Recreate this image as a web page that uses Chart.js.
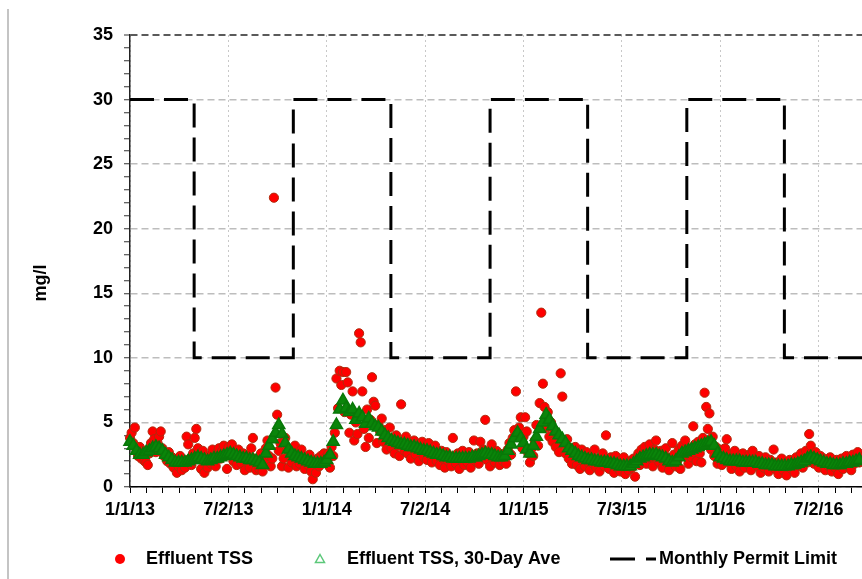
<!DOCTYPE html>
<html>
<head>
<meta charset="utf-8">
<script src="https://cdn.jsdelivr.net/npm/chart.js@4.4.1/dist/chart.umd.min.js"></script>
<style>
  html, body { margin: 0; padding: 0; background: #fff; overflow: hidden; }
  canvas { display: block; }
</style>
</head>
<body>
<canvas id="tssChart" width="862" height="579"></canvas>
<script>
// x values are days counted from 1/1/13
const xTickDays = [0, 182.5, 365, 547.5, 730, 912.5, 1095, 1277.5];
const xTickLabels = ['1/1/13', '7/2/13', '1/1/14', '7/2/14', '1/1/15', '7/3/15', '1/1/16', '7/2/16'];
const xMaxDay = 1358;
const yTitle = 'mg/l';

const yearStartDays = [0, 365, 730, 1095];

// Effluent TSS, one reading every 3 days from each 1 Jan
const tssStepDays = 3;
const tss2013 = [3.8, 4.2, 3.4, 4.6, 2.9, 2.4, 3.1, 2.2, 2.8, 2.0, 1.9, 1.7, 2.6, 3.4, 4.3, 3.7, 2.7, 3.4, 3.9, 4.3,
  3.0, 2.4, 2.6, 2.0, 2.7, 1.8, 2.3, 1.5, 2.1, 1.1, 1.6, 2.4, 1.3, 2.0, 1.5, 3.9, 3.3, 2.2, 1.7, 2.6,
  3.8, 4.5, 3.0, 2.3, 1.4, 2.8, 1.1, 2.0, 1.5, 2.4, 1.8, 2.9, 2.1, 1.6, 2.7, 3.0, 2.2, 2.8, 3.2, 2.4,
  1.4, 3.1, 2.6, 3.3, 2.0, 2.5, 1.7, 2.9, 2.2, 1.8, 2.6, 1.3, 2.1, 2.4, 1.5, 3.0, 3.8, 2.2, 1.3, 2.0,
  1.4, 2.6, 1.2, 2.0, 3.0, 3.6, 2.4, 1.6, 2.2, 22.4, 7.7, 5.6, 2.8, 3.4, 1.6, 2.2, 3.8, 2.9, 1.5, 2.4,
  1.9, 2.7, 3.2, 1.6, 2.5, 1.8, 2.9, 2.1, 1.4, 2.2, 1.7, 2.5, 1.2, 0.6, 1.9, 1.1, 2.2, 1.6, 2.4, 1.9,
  2.6, 2.3];
const tss2014 = [1.8, 2.6, 1.5, 3.1, 2.4, 4.2, 8.4, 6.1, 9.0, 7.9, 8.9, 5.8, 8.9, 8.1, 4.2, 5.6, 7.4, 3.6, 5.0, 4.1,
  11.9, 11.2, 7.4, 4.5, 3.1, 6.0, 3.8, 5.2, 8.5, 6.6, 6.3, 3.4, 4.8, 4.3, 5.3, 3.5, 4.4, 2.9, 3.8, 4.6,
  3.0, 3.7, 2.6, 4.0, 3.2, 2.4, 6.4, 3.5, 2.8, 3.9, 2.6, 3.4, 2.2, 3.1, 3.6, 2.5, 3.3, 2.0, 2.9, 3.5,
  2.3, 3.0, 2.1, 3.4, 2.5, 1.9, 2.9, 3.2, 2.0, 2.6, 1.7, 2.8, 2.2, 1.5, 2.7, 2.0, 2.4, 1.6, 3.8, 2.3,
  1.8, 2.6, 1.4, 2.1, 2.8, 1.7, 2.4, 1.9, 2.7, 1.5, 2.2, 3.6, 2.0, 2.6, 1.8, 3.5, 2.3, 2.9, 5.2, 2.1,
  2.7, 1.6, 3.3, 2.4, 1.9, 2.8, 2.2, 1.7, 2.5, 2.0, 2.6, 1.8, 2.9, 3.4, 2.5, 3.8, 4.4, 7.4, 3.9, 4.6,
  5.4, 3.0];
const tss2015 = [3.9, 5.4, 4.3, 2.6, 1.9, 3.0, 2.4, 3.6, 4.8, 3.2, 6.5, 13.5, 8.0, 6.2, 4.6, 5.8, 3.9, 5.0, 3.5, 4.4,
  3.1, 4.0, 2.7, 8.8, 7.0, 3.3, 2.6, 3.7, 2.2, 3.0, 1.8, 2.6, 3.1, 1.7, 2.5, 1.4, 2.9, 2.0, 1.6, 2.7,
  1.9, 1.3, 2.4, 1.8, 2.9, 1.5, 2.2, 1.2, 2.0, 2.6, 1.6, 4.0, 2.1, 1.4, 2.3, 1.7, 1.1, 2.4, 1.5, 2.0,
  1.2, 1.8, 2.3, 1.0, 1.7, 1.3, 2.0, 1.5, 2.2, 0.8, 1.9, 2.6, 1.7, 2.9, 2.1, 3.1, 1.8, 2.7, 3.3, 2.2,
  1.6, 2.9, 3.6, 2.4, 1.9, 2.8, 1.5, 2.5, 3.0, 1.8, 1.3, 2.2, 3.4, 2.5, 1.6, 2.0, 2.9, 1.4, 3.2, 2.4,
  3.6, 2.7, 1.8, 3.0, 2.3, 4.7, 3.3, 2.0, 3.5, 2.6, 1.9, 3.8, 7.3, 6.2, 4.5, 5.7, 2.9, 3.9, 2.4, 3.1,
  1.8, 2.6];
const tss2016 = [2.9, 1.7, 2.4, 3.0, 3.7, 1.9, 2.5, 1.4, 2.2, 2.8, 1.6, 2.3, 1.2, 2.0, 2.6, 1.5, 2.1, 1.8, 2.5, 1.3,
  2.8, 1.9, 2.2, 1.6, 2.4, 1.1, 2.0, 1.5, 2.3, 1.8, 1.2, 2.1, 1.6, 2.9, 1.4, 1.9, 1.0, 1.7, 2.2, 1.3,
  1.8, 0.9, 1.6, 2.1, 1.4, 1.9, 1.1, 2.3, 1.7, 2.0, 2.6, 1.5, 2.2, 2.8, 1.9, 4.1, 3.2, 2.5, 1.8, 2.7,
  2.1, 1.5, 2.4, 1.8, 2.2, 1.3, 2.0, 1.6, 2.3, 1.2, 1.9, 1.5, 2.1, 1.0, 1.7, 2.2, 1.4, 1.9, 2.4, 1.6,
  2.0, 1.3, 2.5, 1.8, 2.2, 2.7, 1.9, 2.3];

// Effluent TSS, 30-Day Ave, read every 6 days from each 1 Jan
const aveStepDays = 6;
const ave2013 = [3.5, 3.2, 2.8, 2.5, 2.5, 2.7, 2.8, 3.0, 3.1, 3.0, 2.8, 2.5, 2.3, 2.1, 1.9, 1.9, 1.9, 1.9, 2.0, 2.1,
  2.2, 2.3, 2.2, 2.1, 2.0, 2.1, 2.2, 2.2, 2.3, 2.4, 2.5, 2.6, 2.5, 2.4, 2.3, 2.2, 2.2, 2.1, 2.1, 2.0,
  1.9, 1.7, 2.6, 3.2, 3.7, 4.2, 4.8, 4.1, 3.4, 2.9, 2.6, 2.4, 2.3, 2.2, 2.1, 2.0, 1.9, 1.8, 1.8, 1.8,
  1.9];
const ave2014 = [2.1, 2.5, 3.5, 4.8, 6.0, 6.7, 6.1, 5.8, 6.0, 5.2, 5.7, 5.4, 4.9, 5.3, 4.9, 4.7, 4.6, 4.3, 4.0, 3.8,
  3.6, 3.5, 3.4, 3.3, 3.3, 3.2, 3.1, 3.1, 3.0, 2.9, 2.8, 2.8, 2.7, 2.6, 2.5, 2.5, 2.4, 2.3, 2.3, 2.2,
  2.2, 2.2, 2.2, 2.2, 2.2, 2.3, 2.3, 2.4, 2.5, 2.6, 2.5, 2.5, 2.4, 2.3, 2.3, 2.4, 2.8, 3.3, 3.8, 4.2,
  3.8];
const ave2015 = [3.4, 2.9, 2.6, 3.2, 3.9, 4.5, 5.0, 5.6, 5.2, 4.7, 4.3, 4.0, 3.7, 3.4, 3.0, 2.8, 2.6, 2.4, 2.3, 2.2,
  2.1, 2.1, 2.0, 2.0, 1.9, 1.9, 1.9, 1.8, 1.8, 1.7, 1.6, 1.6, 1.6, 1.6, 1.8, 2.0, 2.2, 2.3, 2.4, 2.5,
  2.5, 2.5, 2.4, 2.3, 2.2, 2.0, 1.9, 2.0, 2.3, 2.6, 2.7, 2.8, 2.9, 3.0, 3.1, 3.2, 3.3, 3.4, 3.5, 3.2,
  2.6];
const ave2016 = [2.3, 2.2, 2.1, 2.0, 2.0, 2.0, 2.0, 1.9, 1.9, 1.9, 1.9, 1.9, 1.8, 1.8, 1.7, 1.7, 1.7, 1.6, 1.6, 1.6,
  1.6, 1.6, 1.7, 1.7, 1.8, 1.9, 2.0, 2.2, 2.3, 2.2, 2.1, 2.0, 1.9, 1.8, 1.8, 1.7, 1.7, 1.7, 1.8, 1.8,
  1.9, 1.9, 2.0, 2.1];

// Monthly Permit Limit: 30 Nov-Apr, 10 May-Oct
const permitDays = [0, 119, 303, 484, 668, 849, 1033, 1214, 1358];
const permitValues = [30, 10, 30, 10, 30, 10, 30, 10, 10];

const seriesLabels = ['Effluent TSS', 'Effluent TSS, 30-Day Ave', 'Monthly Permit Limit'];

const FONT = '"Liberation Sans", Arial, sans-serif';

function toPoints(years, step) {
    const pts = [];
    years.forEach((vals, k) => {
        vals.forEach((v, i) => pts.push({ x: yearStartDays[k] + i * step, y: v }));
    });
    return pts;
}

const tssPoints = toPoints([tss2013, tss2014, tss2015, tss2016], tssStepDays);
const avePoints = toPoints([ave2013, ave2014, ave2015, ave2016], aveStepDays);
const permitPoints = permitDays.map((d, i) => ({ x: d, y: permitValues[i] }));

// major ticks plus 5 minor ticks between them
function buildXTicks(scale) {
    const ticks = [];
    const step = (xTickDays[1] - xTickDays[0]) / 6;
    xTickDays.forEach((d) => {
        ticks.push({ value: d });
        for (let k = 1; k < 6; k++) {
            const v = d + k * step;
            if (v <= xMaxDay) ticks.push({ value: v });
        }
    });
    scale.ticks = ticks;
}

const extrasPlugin = {
    id: 'extras',
    afterDraw: (chart) => {
        const { ctx } = chart;
        ctx.save();

        // frame line on the left
        ctx.strokeStyle = '#c4c4c4';
        ctx.lineWidth = 2;
        ctx.beginPath();
        ctx.moveTo(8, 9);
        ctx.lineTo(8, 579);
        ctx.stroke();

        // y axis title
        ctx.save();
        ctx.translate(41, 283);
        ctx.rotate(-Math.PI / 2);
        ctx.font = 'bold 18px ' + FONT;
        ctx.fillStyle = '#000';
        ctx.textAlign = 'center';
        ctx.textBaseline = 'middle';
        ctx.fillText(yTitle, 0, 0);
        ctx.restore();

        // legend
        const ly = 559;
        ctx.font = 'bold 18px ' + FONT;
        ctx.fillStyle = '#000';
        ctx.textAlign = 'left';
        ctx.textBaseline = 'middle';

        ctx.beginPath();
        ctx.arc(120, ly, 5, 0, Math.PI * 2);
        ctx.fillStyle = '#ff0000';
        ctx.fill();
        ctx.fillStyle = '#000';
        ctx.fillText(seriesLabels[0], 146, ly);

        ctx.beginPath();
        ctx.moveTo(320, ly - 4.5);
        ctx.lineTo(324.5, ly + 3.5);
        ctx.lineTo(315.5, ly + 3.5);
        ctx.closePath();
        ctx.strokeStyle = '#5cc87a';
        ctx.lineWidth = 1.5;
        ctx.stroke();
        ctx.fillText(seriesLabels[1], 347, ly);

        ctx.strokeStyle = '#000';
        ctx.lineWidth = 3;
        ctx.beginPath();
        ctx.moveTo(610, ly);
        ctx.lineTo(635, ly);
        ctx.moveTo(646, ly);
        ctx.lineTo(656, ly);
        ctx.stroke();
        ctx.fillText(seriesLabels[2], 659, ly);

        ctx.restore();
    }
};

const ctx = document.getElementById('tssChart').getContext('2d');

new Chart(ctx, {
    type: 'scatter',
    data: {
        datasets: [{
            label: seriesLabels[0],
            data: tssPoints,
            pointRadius: 4.6,
            pointBackgroundColor: '#ff0000',
            pointBorderColor: '#b02a0c',
            pointBorderWidth: 1,
            clip: false,
            order: 3
        },
        {
            label: seriesLabels[1],
            data: avePoints,
            pointStyle: 'triangle',
            pointRadius: 7,
            pointBackgroundColor: '#0a850a',
            pointBorderColor: '#087808',
            pointBorderWidth: 1.5,
            clip: false,
            order: 2
        },
        {
            label: seriesLabels[2],
            data: permitPoints,
            type: 'line',
            showLine: true,
            stepped: 'before',
            borderColor: '#000',
            borderWidth: 3,
            borderDash: [24, 10],
            pointRadius: 0,
            fill: false,
            order: 1
        }]
    },
    options: {
        responsive: false,
        animation: false,
        layout: { autoPadding: false, padding: { top: 35, right: 0, bottom: 0, left: 0 } },
        plugins: {
            legend: { display: false },
            tooltip: { enabled: false }
        },
        scales: {
            x: {
                type: 'linear',
                min: 0,
                max: xMaxDay,
                afterBuildTicks: buildXTicks,
                afterFit: (scale) => { scale.height = 92; },
                grid: {
                    color: (c) => xTickDays.includes(c.tick && c.tick.value) ? '#c8c8c8' : 'rgba(0,0,0,0)',
                    lineWidth: 1,
                    tickColor: '#000',
                    tickLength: 6,
                    tickWidth: 1
                },
                border: { color: '#000', width: 1.5, dash: [2, 3] },
                ticks: {
                    autoSkip: false,
                    maxRotation: 0,
                    minRotation: 0,
                    padding: 6,
                    color: '#000',
                    font: { family: FONT, size: 18, weight: 'bold' },
                    callback: (value) => {
                        const i = xTickDays.indexOf(value);
                        return i >= 0 ? xTickLabels[i] : '';
                    }
                }
            },
            y: {
                min: 0,
                max: 35,
                afterFit: (scale) => { scale.width = 130; },
                grid: {
                    color: (c) => {
                        const v = c.tick ? c.tick.value : 0;
                        if (v % 5 !== 0) return 'rgba(0,0,0,0)';
                        return v === 35 ? '#5a5a5a' : '#bdbdbd';
                    },
                    lineWidth: (c) => (c.tick && c.tick.value === 35) ? 2 : 1.5,
                    tickColor: '#333',
                    tickLength: 6,
                    tickWidth: 1
                },
                border: { color: '#222', width: 1.5, dash: [7, 4] },
                ticks: {
                    stepSize: 1,
                    autoSkip: false,
                    padding: 11,
                    color: '#000',
                    font: { family: FONT, size: 18, weight: 'bold' },
                    callback: (value) => (value % 5 === 0 ? value : '')
                }
            }
        }
    },
    plugins: [extrasPlugin]
});
</script>
</body>
</html>
